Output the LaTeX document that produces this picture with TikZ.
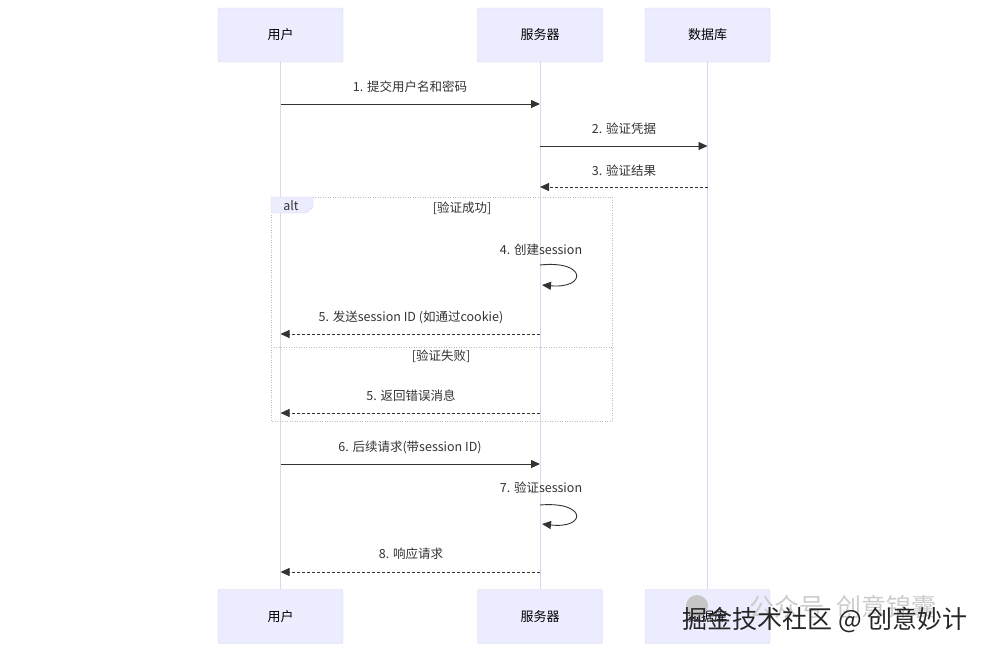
\documentclass[tikz,border=0pt]{standalone}
\usepackage{fontspec}
\setmainfont{Noto Sans CJK SC}
\usetikzlibrary{arrows.meta,positioning,calc}
\definecolor{actfill}{HTML}{ECECFF}
\definecolor{actline}{HTML}{D6CFF0}
\definecolor{lifecol}{HTML}{D9D6EE}
\definecolor{msgcol}{HTML}{333333}
\definecolor{altline}{HTML}{BDBDBD}

\begin{document}
\begin{tikzpicture}[x=1pt, y=-1pt,
    actor/.style={draw=actline, fill=actfill, rounded corners=2pt, minimum width=125pt, minimum height=54pt, font=\fontsize{13}{15}\selectfont},
    life/.style={draw=lifecol, line width=1pt},
    msg/.style={draw=msgcol, line width=0.9pt, -{Triangle[length=9pt,width=8pt]}},
    reply/.style={msg, dash pattern=on 3pt off 2pt},
    lbl/.style={font=\fontsize{12.5}{14}\selectfont, text=msgcol, inner sep=0pt},
    frame/.style={draw=altline, line width=0.8pt, dash pattern=on 1pt off 1.5pt}
]
    \useasboundingbox (0,0) rectangle (988,653);

    % actors top and bottom
    \node[actor] (user) at (280.5,35) {用户};
    \node[actor] (srv) at (540,35) {服务器};
    \node[actor] (db) at (707.5,35) {数据库};
    \node[actor] (userB) at (280.5,616.5) {用户};
    \node[actor] (srvB) at (540,616.5) {服务器};
    \node[actor] (dbB) at (707.5,616.5) {数据库};

    \draw[life] (user.south) -- (userB.north);
    \draw[life] (srv.south) -- (srvB.north);
    \draw[life] (db.south) -- (dbB.north);

    % message heights
    \coordinate (m1) at (0,104);
    \coordinate (m2) at (0,146);
    \coordinate (m3) at (0,187);
    \coordinate (m5) at (0,334);
    \coordinate (m5b) at (0,413);
    \coordinate (m6) at (0,464);
    \coordinate (m8) at (0,572);

    \draw[msg] (user |- m1) -- (srv |- m1);
    \node[lbl] (l1) at (410,87) {1. 提交用户名和密码};
    \draw[msg] (srv |- m2) -- (db |- m2);
    \node[lbl] (l2) at (624,129) {2. 验证凭据};
    \draw[reply] (db |- m3) -- (srv |- m3);
    \node[lbl] (l3) at (624,171) {3. 验证结果};

    % alt frame
    \draw[frame] (271,197) rectangle (612,421);
    \draw[frame] (271,347) -- (612,347);
    \draw[draw=actline, fill=actfill] (271,197) -- (313,197) -- (313,207) -- (306,213) -- (271,213) -- cycle;
    \node[lbl] (alt) at (291,205.5) {alt};
    \node[lbl] (g1) at (462,208) {[验证成功]};
    \node[lbl] (g2) at (441,356) {[验证失败]};

    \node[lbl] (l4) at (541,250) {4. 创建session};
    \draw[msg] ($(srv |- m1)+(0,161)$) coordinate (s4)
        .. controls (587,260) and (587,289) .. ($(s4)+(2,20)$);
    \draw[reply] (srv |- m5) -- (user |- m5);
    \node[lbl] (l5) at (411,317) {5. 发送session ID (如通过cookie)};
    \draw[reply] (srv |- m5b) -- (user |- m5b);
    \node[lbl] (l5b) at (411,396) {5. 返回错误消息};

    \draw[msg] (user |- m6) -- (srv |- m6);
    \node[lbl] (l6) at (410,447) {6. 后续请求(带session ID)};
    \node[lbl] (l7) at (541,488) {7. 验证session};
    \draw[msg] ($(srv |- m6)+(0,41)$) coordinate (s7)
        .. controls (587,501) and (587,529) .. ($(s7)+(2,19)$);
    \draw[reply] (srv |- m8) -- (user |- m8);
    \node[lbl] (l8) at (411,554) {8. 响应请求};

    % watermark
    \fill[gray!45] (697,606) circle (11pt);
    \node[font=\fontsize{25}{27}\selectfont, text=gray!40, inner sep=0pt] (wm1) at (843,607) {公众号\ \ 创意锦囊};
    \node[font=\fontsize{25}{27}\selectfont, text=black!85, inner sep=0pt] (wm2) at (825,620) {掘金技术社区 @ 创意妙计};
\end{tikzpicture}
\end{document}
